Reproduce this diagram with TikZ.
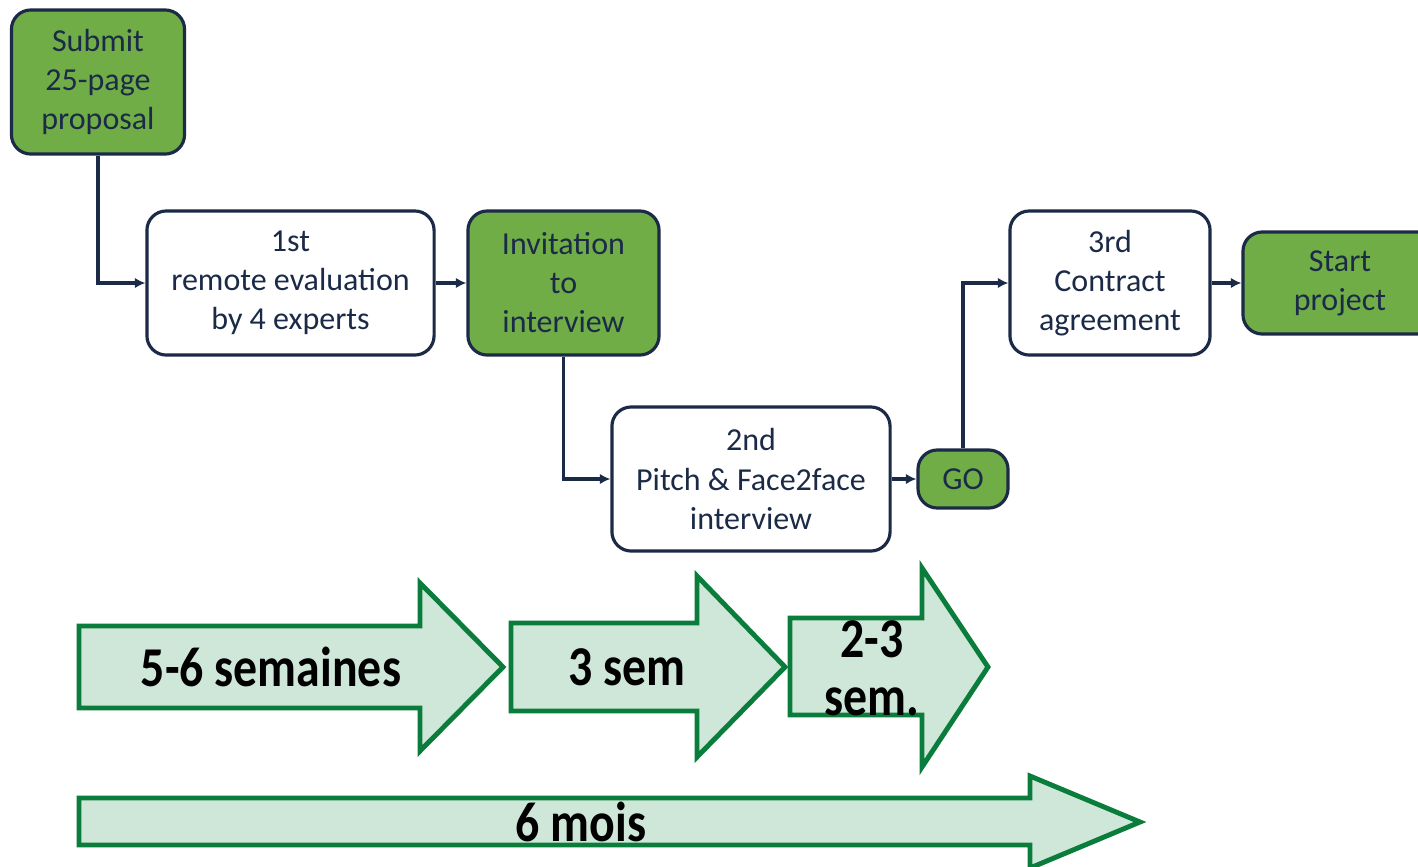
\documentclass[tikz,border=0pt]{standalone}
\usepackage{fontspec}
\setmainfont{Carlito}
\newfontfamily\durfont[FakeStretch=0.85]{Carlito}
\usetikzlibrary{arrows.meta}
\definecolor{boxgreen}{HTML}{70AD47}
\definecolor{navy}{HTML}{1B2A47}
\definecolor{arrowfill}{HTML}{CFE7D9}
\definecolor{arrowline}{HTML}{0A7D3C}
\begin{document}
\begin{tikzpicture}[x=0.01cm, y=-0.01cm,
    stepbox/.style={draw=navy, line width=0.9pt, rounded corners=5.5pt, fill=white, text=navy,
        align=center, inner sep=0pt, font=\fontsize{9.1}{11.1}\selectfont},
    greenbox/.style={stepbox, fill=boxgreen},
    link/.style={draw=navy, line width=0.9pt, -{Latex[length=3pt,width=3pt]}},
    timearrow/.style={draw=arrowline, fill=arrowfill, line width=1.4pt},
    timelabel/.style={align=center, font=\durfont\fontsize{16}{16.5}\selectfont\bfseries}]
    \useasboundingbox (0,0) rectangle (1418,866);

    \node[greenbox, minimum width=1.73cm, minimum height=1.44cm] (submit) at (98,82) {Submit\\25-page\\proposal};
    \node[stepbox, minimum width=2.87cm, minimum height=1.44cm] (remote) at (290.5,283) {1st\\remote evaluation\\by 4 experts};
    \node[greenbox, minimum width=1.91cm, minimum height=1.44cm] (invite) at (563.5,283) {Invitation\\to\\interview};
    \node[stepbox, minimum width=2.78cm, minimum height=1.44cm] (pitch) at (751,479) {2nd\\Pitch \& Face2face\\interview};
    \node[greenbox, minimum width=0.90cm, minimum height=0.58cm] (go) at (963,479) {GO};
    \node[stepbox, minimum width=2.00cm, minimum height=1.44cm] (contract) at (1110,283) {3rd\\Contract\\agreement};
    \node[greenbox, minimum width=1.94cm, minimum height=1.02cm] (start) at (1340,283) {Start\\project};

    \draw[link] (submit.south) |- (remote.west);
    \draw[link] (remote) -- (invite);
    \draw[link] (invite.south) |- (pitch.west);
    \draw[link] (pitch) -- (go);
    \draw[link] (go.north) |- (contract.west);
    \draw[link] (contract) -- (start);

    % durations
    \draw[timearrow] (79,626) -- (420,626) -- (420,583) -- (503,667) -- (420,751) -- (420,708) -- (79,708) -- cycle;
    \draw[timearrow] (511,623) -- (697,623) -- (697,576) -- (785,667) -- (697,757) -- (697,711) -- (511,711) -- cycle;
    \draw[timearrow] (790,618) -- (922,618) -- (922,568) -- (988,667) -- (922,767) -- (922,715) -- (790,715) -- cycle;
    \draw[timearrow] (79,798) -- (1030,798) -- (1030,776) -- (1140,822) -- (1030,868) -- (1030,845) -- (79,845) -- cycle;

    \node[timelabel] (weeks) at (271,667) {5-6 semaines};
    \node[timelabel] (three) at (627,667) {3 sem};
    \node[timelabel] (twothree) at (872,668) {2-3\\sem.};
    \node[timelabel] (months) at (581,822) {6 mois};
\end{tikzpicture}
\end{document}
